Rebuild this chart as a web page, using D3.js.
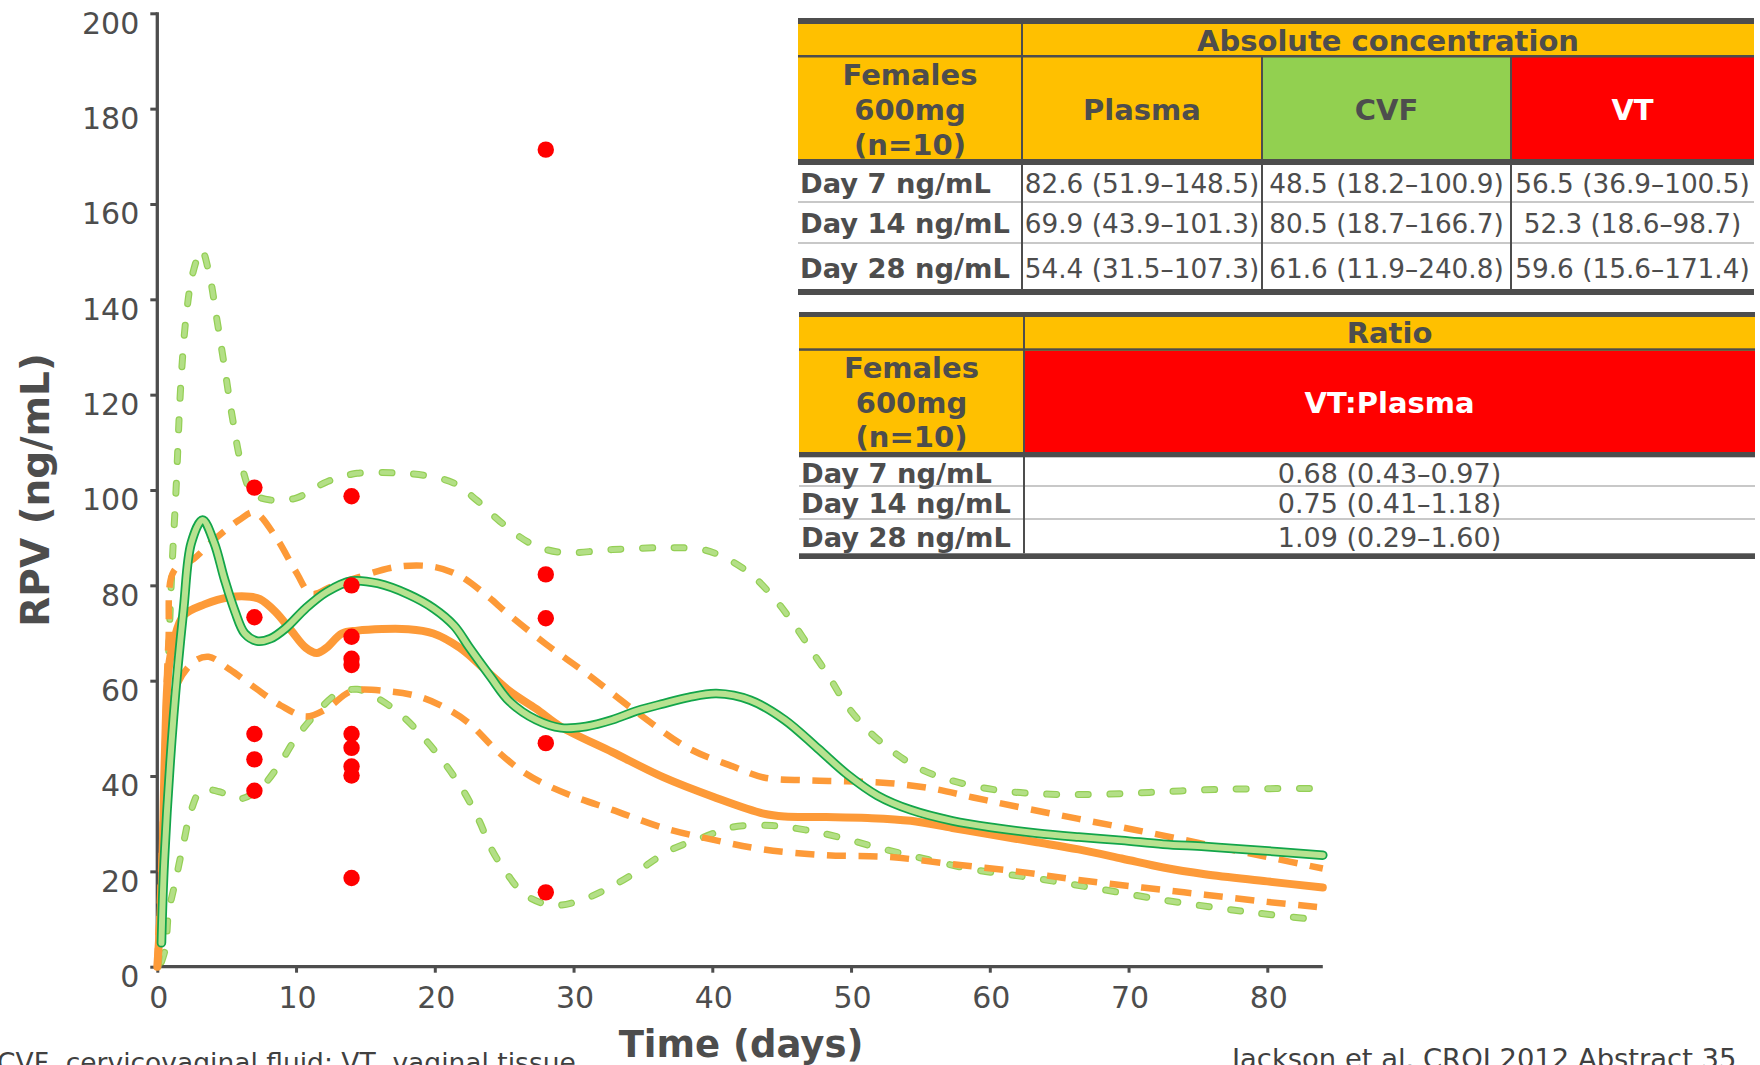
<!DOCTYPE html>
<html><head><meta charset="utf-8">
<script src="https://cdn.jsdelivr.net/npm/d3@7"></script>
<style>body{margin:0;background:#fff;} svg{display:block;}</style>
</head><body>
<svg id="chart" width="1760" height="1065"></svg>
<script>
// ---------------- data ----------------
const xTicks = [0,10,20,30,40,50,60,70,80];
const yTicks = [0,20,40,60,80,100,120,140,160,180,200];

// Plasma (orange) median and bounds: [day, ng/mL]
const plasmaMedian = [[0,0],[0.3,15],[0.55,45],[0.8,62],[1.2,68.5],[1.9,73.7],[3.4,76.0],[5.2,77.5],[6.7,77.6],[7.4,77.1],[8.5,74.5],[9.6,70.7],[10.7,66.9],[11.5,65.8],[12.2,66.9],[13.3,69.9],[14.4,70.5],[18.1,70.8],[19.9,69.9],[21.8,66.9],[23.6,62.4],[25.4,57.8],[27.3,54.1],[29.1,50.3],[32.8,45],[36.5,39.7],[40.1,35.6],[43.7,32.1],[45.2,31.5],[48.2,31.4],[51.2,31.2],[54.3,30.6],[57.3,29.1],[60.3,27.6],[63.4,26.1],[66.4,24.6],[69.5,22.7],[72.5,20.8],[75.5,19.4],[80,17.9],[84,16.6]];
const plasmaUpper = [[0,0],[0.4,30],[0.8,68],[1.2,83],[2.6,85.5],[4.1,89.6],[5.9,93.7],[7.0,95.3],[8.5,90.3],[10,82.8],[11.1,78.2],[12.6,79.8],[14.4,81.6],[17.3,83.9],[19.9,83.9],[21.8,82],[23.6,78.2],[25.4,73.7],[28,67.7],[30.9,61.6],[34.6,53.3],[38.3,45.8],[41.5,42],[43.7,39.7],[46.7,39.1],[49.7,38.9],[52.8,38.5],[55.8,37.4],[58.8,35.5],[61.9,33.6],[66.4,31],[71,28.4],[75.5,25.7],[80,23],[84,20.6]];
const plasmaLower = [[0,0],[0.4,25],[0.8,48],[1.35,58.6],[2.6,63.9],[3.7,65],[5.2,62.4],[7,58.6],[8.9,54.8],[10.7,52.5],[12.2,54.1],[14,57.8],[16.6,57.8],[18.8,56.7],[20.7,54.4],[22.5,51],[24.3,45.8],[26.2,41.2],[28,38.2],[30.2,35.5],[32.8,32.9],[36.5,29.1],[40.1,26.6],[43.7,24.6],[48.2,23.4],[52.8,23.0],[57.3,21.5],[61.9,20.0],[66.4,18.2],[71,16.6],[75.5,15.1],[80,13.6],[84,12.4]];

// CVF (green) median and bounds
const cvfMedian = [[0.3,5],[0.5,22],[1.17,52.5],[1.9,75.2],[2.45,88.9],[3.26,93.7],[4.1,88.9],[4.84,81.3],[5.6,74.5],[6.3,69.9],[7.2,68.3],[8.15,68.8],[9.25,71],[10.7,75.2],[12.2,78.6],[14,80.9],[15.9,80.4],[18.1,78.1],[19.9,75.2],[21.4,71.5],[22.5,66.9],[24,60.9],[25.4,55.6],[27.3,51.8],[29.1,50.1],[30.9,50.4],[32.8,51.8],[34.6,53.7],[36.5,55.2],[38.3,56.5],[40.3,57.3],[42.75,55.9],[45.2,51.8],[47.6,45.8],[49.7,40.4],[51.9,35.9],[54.3,32.9],[57.3,30.6],[60.4,29.1],[63.4,28],[66.4,27.2],[69.5,26.5],[72.5,25.7],[75.5,25.2],[78.5,24.6],[84,23.4]];
const cvfUpper = [[0.05,0],[0.2,5],[0.45,30],[0.7,55],[1.0,80],[1.35,100],[1.7,122.4],[2.08,136.4],[2.56,145.5],[3.2,150.3],[3.73,145.5],[4.3,135.7],[4.84,125.9],[5.4,115.4],[6.1,104.9],[6.87,99.3],[8.15,97.9],[10,98.3],[12.2,101.7],[14.4,103.5],[17,103.6],[19.2,103.1],[21.4,101.4],[23,97.9],[24.7,93.4],[26.9,88.8],[29.1,86.9],[32.8,87.5],[36.5,87.9],[39.3,87.5],[40.9,85.8],[42.75,82.4],[44.4,77.5],[45.8,72.2],[47.2,66.1],[48.4,60.9],[49.7,54.8],[51.25,49.5],[52.9,45.4],[54.9,41.6],[57.3,39],[60.4,37.1],[63.4,36.3],[66.4,36.1],[69.5,36.3],[72.5,36.7],[75.5,37.1],[78.5,37.3],[83.4,37.4]];
const cvfLower = [[0.3,1],[0.6,4],[0.8,11],[1.35,18.5],[1.9,26.1],[2.45,32.9],[3.19,37.1],[4.47,36.7],[5.95,35.2],[7.4,37.4],[8.7,42],[10,48],[11.5,53.3],[12.9,57.1],[14.4,58.2],[15.9,56.3],[17.7,52.5],[19.2,48],[20.7,42.7],[22.1,36.7],[23.2,30.6],[24.1,24.6],[25.25,19.3],[26.5,15.1],[28.4,12.9],[30.2,13.6],[32.4,16.3],[34.6,20],[36.8,24.2],[39.4,27.2],[41.5,29.3],[44.3,29.6],[46.7,28.7],[49.1,27.2],[51.9,25],[55.2,22.7],[58.8,20.4],[63.4,18.5],[67.9,16.3],[72.5,14],[77,12.1],[80,11],[83.7,9.8]];

// VT individual observations (red dots)
const vtDays = [7, 14, 28];
const vtDay7 = [100.5, 73.3, 48.8, 43.5, 36.9];
const vtDay14 = [98.7, 80.0, 69.2, 64.6, 63.3, 48.8, 45.9, 42.0, 40.1, 18.6];
const vtDay28 = [171.4, 82.3, 73.1, 46.9, 15.6];

// table contents
const absTitle = "Absolute concentration";
const groupLabel = ["Females", "600mg", "(n=10)"];
const absColumns = ["Plasma", "CVF", "VT"];
const rowLabels = ["Day 7 ng/mL", "Day 14 ng/mL", "Day 28 ng/mL"];
const plasmaConc = ["82.6 (51.9–148.5)", "69.9 (43.9–101.3)", "54.4 (31.5–107.3)"];
const cvfConc = ["48.5 (18.2–100.9)", "80.5 (18.7–166.7)", "61.6 (11.9–240.8)"];
const vtConc = ["56.5 (36.9–100.5)", "52.3 (18.6–98.7)", "59.6 (15.6–171.4)"];
const ratioTitle = "Ratio";
const ratioColumn = "VT:Plasma";
const ratioVals = ["0.68 (0.43–0.97)", "0.75 (0.41–1.18)", "1.09 (0.29–1.60)"];

const footLeft = "CVF, cervicovaginal fluid; VT, vaginal tissue";
const footRight = "Jackson et al. CROI 2012 Abstract 35";

// ---------------- drawing ----------------
const FONT = "DejaVu Sans, Verdana, sans-serif";
const GRAY = "#4d4d4d";
const ORANGE = "#fd9a38";
const svg = d3.select("#chart");

const x = d3.scaleLinear().domain([0, 84]).range([157.3, 1322.8]);
const y = d3.scaleLinear().domain([0, 200]).range([966.7, 13.3]);

// axes
const gx = svg.append("g").attr("transform", `translate(0,${y(0)})`)
  .call(d3.axisBottom(x).tickValues(xTicks).tickSize(6).tickPadding(14).tickSizeOuter(0));
const gy = svg.append("g").attr("transform", `translate(${x(0)},0)`)
  .call(d3.axisLeft(y).tickValues(yTicks).tickSize(7).tickPadding(11).tickSizeOuter(0));
[gx, gy].forEach(g => {
  g.attr("font-family", FONT).attr("font-size", 30);
  g.select(".domain").remove();
  g.selectAll(".tick line").attr("stroke", GRAY).attr("stroke-width", 3);
  g.selectAll(".tick text").attr("fill", GRAY);
});
gy.selectAll(".tick text").attr("dy", "0.66em");
gx.selectAll(".tick text").attr("dy", "0.71em").attr("dx", 1);
svg.append("line").attr("x1", x(0)).attr("x2", x(0)).attr("y1", y(200) - 1).attr("y2", y(0) + 1.6)
  .attr("stroke", GRAY).attr("stroke-width", 3.3);
svg.append("line").attr("x1", x(0) - 1.6).attr("x2", x(84)).attr("y1", y(0)).attr("y2", y(0))
  .attr("stroke", GRAY).attr("stroke-width", 3.3);

// axis titles
svg.append("text").attr("transform", "translate(48.5,490) rotate(-90)")
  .attr("text-anchor", "middle").attr("font-family", FONT).attr("font-weight", "bold")
  .attr("font-size", 39).attr("fill", GRAY).text("RPV (ng/mL)");
svg.append("text").attr("x", 741).attr("y", 1057)
  .attr("text-anchor", "middle").attr("font-family", FONT).attr("font-weight", "bold")
  .attr("font-size", 37).attr("fill", GRAY).text("Time (days)");

const line = d3.line().x(d => x(d[0])).y(d => y(d[1])).curve(d3.curveCatmullRom.alpha(0.5));
const plot = svg.append("g");

// green dashed bounds
[cvfLower, cvfUpper].forEach(s => {
  plot.append("path").attr("d", line(s)).attr("fill", "none").attr("stroke", "#94cf55")
    .attr("stroke-width", 7).attr("stroke-linecap", "round").attr("stroke-dasharray", "10,21.6");
  plot.append("path").attr("d", line(s)).attr("fill", "none").attr("stroke", "#b3df86")
    .attr("stroke-width", 4.6).attr("stroke-linecap", "round").attr("stroke-dasharray", "10,21.6");
});
// orange dashed bounds
[plasmaLower, plasmaUpper].forEach(s => {
  plot.append("path").attr("d", line(s)).attr("fill", "none").attr("stroke", ORANGE)
    .attr("stroke-width", 6.5).attr("stroke-dasharray", "19,12.6");
});
// orange median
plot.append("path").attr("d", line(plasmaMedian)).attr("fill", "none").attr("stroke", ORANGE)
  .attr("stroke-width", 8).attr("stroke-linecap", "round").attr("stroke-linejoin", "round");
// green median (outlined)
plot.append("path").attr("d", line(cvfMedian)).attr("fill", "none").attr("stroke", "#12a54a")
  .attr("stroke-width", 9.5).attr("stroke-linecap", "round").attr("stroke-linejoin", "round");
plot.append("path").attr("d", line(cvfMedian)).attr("fill", "none").attr("stroke", "#b8e290")
  .attr("stroke-width", 6).attr("stroke-linecap", "round").attr("stroke-linejoin", "round");

// red dots
const dots = [];
[vtDay7, vtDay14, vtDay28].forEach((vals, i) => vals.forEach(v => dots.push([vtDays[i], v])));
plot.selectAll("circle.vt").data(dots).enter().append("circle").attr("class", "vt")
  .attr("cx", d => x(d[0])).attr("cy", d => y(d[1])).attr("r", 8.2).attr("fill", "#ff0000");

// ---------------- tables ----------------
const YELLOW = "#ffc000", GREEN = "#92d050", RED = "#ff0000", SEP = "#c8c8c8";
const tg = svg.append("g").attr("font-family", FONT);
function rect(x0, y0, x1, y1, fill) {
  tg.append("rect").attr("x", x0).attr("y", y0).attr("width", x1 - x0).attr("height", y1 - y0).attr("fill", fill);
}
function txt(t, xx, yy, size, bold, fill, anchor) {
  tg.append("text").attr("x", xx).attr("y", yy).attr("font-size", size)
    .attr("font-weight", bold ? "bold" : "normal").attr("fill", fill || GRAY)
    .attr("text-anchor", anchor || "middle").text(t);
}

// Table 1
{
  const cx = [798, 1022, 1262, 1511, 1754];
  rect(cx[0], 24, cx[4], 159, YELLOW);
  rect(cx[2], 57, cx[3], 159, GREEN);
  rect(cx[3], 57, cx[4], 159, RED);
  rect(cx[0], 18, cx[4], 24, GRAY);
  rect(cx[0], 55, cx[4], 57.5, GRAY);
  rect(cx[0], 159, cx[4], 165, GRAY);
  rect(cx[0], 201, cx[4], 203, SEP);
  rect(cx[0], 242, cx[4], 244, SEP);
  rect(cx[0], 289, cx[4], 295, GRAY);
  rect(cx[1] - 1, 24, cx[1] + 1, 289, GRAY);
  rect(cx[2] - 1, 57, cx[2] + 1, 289, GRAY);
  rect(cx[3] - 1, 57, cx[3] + 1, 289, GRAY);
  txt(absTitle, (cx[1] + cx[4]) / 2, 50.5, 29, true);
  groupLabel.forEach((g, i) => txt(g, (cx[0] + cx[1]) / 2, 85 + i * 35, 29, true));
  absColumns.forEach((c, i) => txt(c, (cx[i + 1] + cx[i + 2]) / 2, 120, 29, true, i === 2 ? "#ffffff" : GRAY));
  const base = [192.7, 233.3, 278.3];
  const cols = [plasmaConc, cvfConc, vtConc];
  rowLabels.forEach((r, i) => {
    txt(r, 800, base[i], 27.3, true, GRAY, "start");
    cols.forEach((c, j) => txt(c[i], (cx[j + 1] + cx[j + 2]) / 2, base[i], 26.3, false));
  });
}
// Table 2
{
  const cx = [799, 1024, 1755];
  rect(cx[0], 317, cx[2], 452, YELLOW);
  rect(cx[1], 351, cx[2], 452, RED);
  rect(cx[0], 312, cx[2], 317, GRAY);
  rect(cx[0], 348.3, cx[2], 350.8, GRAY);
  rect(cx[0], 452, cx[2], 457.3, GRAY);
  rect(cx[0], 485, cx[2], 487, SEP);
  rect(cx[0], 518, cx[2], 520, SEP);
  rect(cx[0], 553.3, cx[2], 559, GRAY);
  rect(cx[1] - 1, 317, cx[1] + 1, 553.3, GRAY);
  txt(ratioTitle, (cx[1] + cx[2]) / 2, 342.7, 29, true);
  groupLabel.forEach((g, i) => txt(g, (cx[0] + cx[1]) / 2, 378.3 + i * 34.2, 29, true));
  txt(ratioColumn, (cx[1] + cx[2]) / 2, 413.3, 29, true, "#ffffff");
  const base = [482.7, 513.3, 546.7];
  rowLabels.forEach((r, i) => {
    txt(r, 801, base[i], 27.3, true, GRAY, "start");
    txt(ratioVals[i], (cx[1] + cx[2]) / 2, base[i], 27, false);
  });
}

// footnotes
svg.append("text").attr("x", -3).attr("y", 1072).attr("font-family", FONT).attr("font-size", 26.5)
  .attr("fill", "#404040").text(footLeft);
svg.append("text").attr("x", 1232).attr("y", 1068).attr("font-family", FONT).attr("font-size", 27.4)
  .attr("fill", "#404040").text(footRight);
</script>
</body></html>
